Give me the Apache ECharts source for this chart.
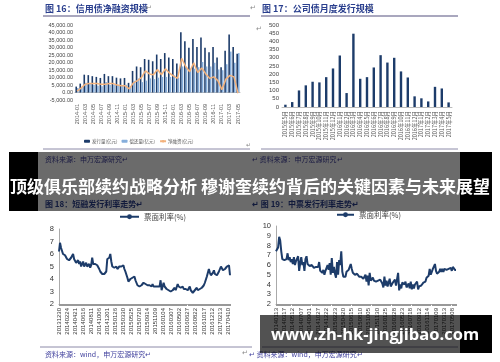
<!DOCTYPE html>
<html>
<head>
<meta charset="utf-8">
<script src="https://cdn.jsdelivr.net/npm/echarts@6/dist/echarts.min.js"></script>
<style>
html,body{margin:0;padding:0;background:#fff;}
#c{width:500px;height:362px;}
</style>
</head>
<body>
<div id="c"></div>
<script>
// 图16 信用债净融资规模（月度，亿元）
const creditMonths = ['2014-01','2014-02','2014-03','2014-04','2014-05','2014-06','2014-07','2014-08','2014-09','2014-10','2014-11','2014-12',
  '2015-01','2015-02','2015-03','2015-04','2015-05','2015-06','2015-07','2015-08','2015-09','2015-10','2015-11','2015-12',
  '2016-01','2016-02','2016-03','2016-04','2016-05','2016-06','2016-07','2016-08','2016-09','2016-10','2016-11','2016-12',
  '2017-01','2017-02','2017-03','2017-04','2017-05'];
const issuance = [4000,6000,12000,11700,11000,10500,9800,12500,11000,11000,10000,9500,9800,6500,14500,17500,17000,22500,22000,21000,25500,22500,26500,23500,22500,19500,40500,34500,30000,36000,30500,37000,30000,27000,30500,23500,17000,28000,39000,30500,26000];
const repayment = [3000,3000,6500,5700,5000,4500,4300,7000,5000,5000,5000,5000,5300,4000,8000,9500,7000,8000,9500,9000,10000,10500,10500,10500,11500,10000,17500,17000,16000,16000,17000,20500,17500,17500,20000,15500,15000,19000,27500,20000,26500];
const netFinancing = [1000,3000,5500,6000,6000,6000,5500,5500,6000,6000,5000,4500,4500,2500,6500,8000,10000,14500,12500,12000,15500,12000,16000,13000,11000,9500,23000,17500,14000,20000,13500,16500,12500,9500,10500,8000,2000,9000,11500,10500,-500];

// 图17 公司债月度发行规模
const corpMonths = ['2015年5月','2015年6月','2015年7月','2015年8月','2015年9月','2015年10月','2015年11月','2015年12月',
  '2016年1月','2016年2月','2016年3月','2016年4月','2016年5月','2016年6月','2016年7月','2016年8月','2016年9月','2016年10月','2016年11月','2016年12月',
  '2017年1月','2017年2月','2017年3月','2017年4月','2017年5月'];
const corpIssuance = [14,30,101,132,154,150,182,235,314,85,447,172,182,241,316,271,300,217,180,65,53,34,123,113,28];

// 图18 短融票面利率（周度，%）
const cpTicks = ['20131230','20140224','20140421','20140616','20140811','20141006','20141201','20150126','20150330','20150525','20150720',
  '20150914','20151109','20160104','20160307','20160502','20160627','20160822','20161017','20161212','20170213','20170410'];
const cpRate = [6.2,6.9,6.5,6.6,6.0,6.0,5.9,5.9,5.6,5.5,
  5.5,5.5,5.7,5.8,6.0,5.6,5.5,5.3,5.4,5.5,
  5.2,5.4,5.0,5.1,5.4,5.0,5.1,5.3,5.0,5.1,
  5.2,4.9,5.1,5.7,5.2,5.1,5.2,5.1,5.1,5.0,
  4.8,4.6,4.5,4.4,4.5,4.4,4.5,4.6,5.6,5.5,
  5.7,6.0,5.4,5.0,5.1,4.9,4.8,5.0,4.8,4.9,
  5.0,5.1,5.0,4.9,5.1,4.8,4.6,4.5,4.1,3.8,
  3.9,4.0,3.9,4.1,4.0,4.2,3.9,3.7,3.5,3.5,
  3.4,3.4,3.5,3.6,3.7,3.7,3.6,3.6,3.5,3.5,
  3.5,3.4,3.4,3.6,3.4,3.3,3.4,3.4,3.4,3.5,
  3.4,3.9,3.1,3.4,3.7,3.4,3.3,3.2,3.1,3.1,
  3.0,3.0,3.1,3.1,3.2,3.3,3.1,3.0,3.6,3.4,
  3.3,3.3,3.2,3.4,3.2,3.1,3.2,3.3,3.1,3.2,
  3.4,3.1,3.0,2.9,3.0,3.1,3.1,3.3,3.1,3.0,
  3.2,3.3,3.3,3.4,3.5,3.7,3.8,4.2,4.5,4.8,
  4.5,4.3,4.3,4.5,4.7,4.4,4.3,4.3,4.4,4.6,
  4.8,5.0,4.9,4.7,4.7,4.8,4.7,5.0,4.9,5.1,4.3];

// 图19 中票票面利率（周度，%）
const mtnTicks = ['20140113','20140317','20140512','20140707','20140901','20141027','20141222','20150223','20150420','20150615','20150810',
  '20151005','20151130','20160125','20160328','20160523','20160718','20160912','20161114','20170109','20170313','20170508'];
const mtnRate = [7.4,7.6,7.8,8.9,8.5,7.4,6.6,6.6,6.5,6.7,
  6.6,7.2,6.5,6.8,6.3,6.6,6.1,6.8,6.0,6.4,
  6.2,6.9,5.4,6.2,6.8,6.0,6.3,5.4,6.6,6.9,
  6.1,6.0,5.9,5.8,6.0,5.8,5.7,5.9,5.8,5.8,
  5.8,6.3,5.4,5.5,5.2,5.5,5.0,5.4,5.6,6.0,
  5.5,6.2,5.0,6.7,5.2,5.8,5.1,4.7,6.3,5.0,
  6.5,6.0,7.4,5.3,4.8,4.9,4.8,5.3,5.3,5.5,
  5.3,6.1,5.6,5.2,5.3,5.0,4.9,5.1,4.9,4.8,
  5.0,4.8,4.9,4.6,4.8,5.0,4.3,4.9,3.9,5.2,
  4.4,4.6,4.7,4.4,4.6,4.3,4.5,4.4,4.2,4.5,
  4.3,4.1,3.7,4.8,3.9,4.4,3.8,4.0,4.6,3.8,
  4.0,4.2,4.0,4.5,3.9,4.0,5.2,3.4,4.0,3.6,
  4.2,4.2,4.0,4.3,3.7,3.5,4.1,3.6,4.3,3.5,
  4.0,3.6,4.0,3.8,4.3,3.5,3.8,3.7,3.9,3.8,
  4.2,4.0,4.3,4.7,4.5,4.9,5.6,5.0,5.3,5.6,
  5.8,6.1,5.4,5.1,5.0,5.3,5.6,5.3,5.6,5.3,
  5.6,5.4,5.5,5.3,5.6,5.5,5.7,5.4,5.8,5.6,5.5,5.5];

const NAVY = '#1d3c6a';
const LIGHT = '#86aedb';
const ORANGE = '#f3b27c';
const LATIN = 'Liberation Sans, Arial, sans-serif';
const CJK = 'Noto Sans CJK SC, sans-serif';
const TITLE_BLUE = '#2a3f8e';
const SRC_BLUE = '#3e3e9c';

const idx = n => Array.from({length: n}, (_, i) => String(i));
const weekLabel = ticks => v => { const i = +v; return i % 8 === 0 ? (ticks[i / 8] || '') : ''; };

const chart = echarts.init(document.getElementById('c'), null, {renderer: 'canvas'});

const smallLabel = {fontFamily: LATIN, color: '#333'};

chart.setOption({
  animation: false,
  backgroundColor: '#fff',
  grid: [
    {left: 75, top: 25.5, width: 165, height: 74.5},
    {left: 282, top: 25, width: 170, height: 82},
    {left: 59, top: 229, width: 171, height: 75},
    {left: 276, top: 226, width: 180, height: 78}
  ],
  xAxis: [
    {gridIndex: 0, type: 'category', position: 'bottom', data: creditMonths,
      axisLine: {onZero: true, lineStyle: {color: '#bbb', width: 1}}, axisTick: {show: false},
      axisLabel: Object.assign({}, smallLabel, {fontSize: 5.5, rotate: 90, interval: 1, margin: 4, color: '#555'})},
    {gridIndex: 1, type: 'category', position: 'bottom', data: corpMonths,
      axisLine: {onZero: false, lineStyle: {color: '#bbb'}}, axisTick: {show: false},
      axisLabel: {fontFamily: CJK, fontSize: 5.5, rotate: 90, interval: 0, margin: 4, color: '#555'}},
    {gridIndex: 2, type: 'category', position: 'bottom', data: idx(cpRate.length), boundaryGap: false,
      axisLine: {onZero: false, lineStyle: {color: '#aaa'}}, axisTick: {show: true, interval: 0, length: 2, lineStyle: {color: '#999'}},
      axisLabel: Object.assign({}, smallLabel, {fontSize: 6, rotate: 90, interval: 0, margin: 4, formatter: weekLabel(cpTicks)})},
    {gridIndex: 3, type: 'category', position: 'bottom', data: idx(mtnRate.length), boundaryGap: false,
      axisLine: {onZero: false, lineStyle: {color: '#aaa'}}, axisTick: {show: true, interval: 0, length: 2, lineStyle: {color: '#999'}},
      axisLabel: Object.assign({}, smallLabel, {fontSize: 6, rotate: 90, interval: 0, margin: 4, formatter: weekLabel(mtnTicks)})}
  ],
  yAxis: [
    {gridIndex: 0, type: 'value', position: 'left', min: -5000, max: 45000, interval: 5000,
      axisLine: {show: false}, axisTick: {show: false}, splitLine: {show: false},
      axisLabel: Object.assign({}, smallLabel, {fontSize: 5.5, margin: 2, color: '#444',
        formatter: v => v.toLocaleString('en-US', {minimumFractionDigits: 2, maximumFractionDigits: 2})})},
    {gridIndex: 1, type: 'value', position: 'left', min: 0, max: 500, interval: 50,
      axisLine: {show: false}, axisTick: {show: false}, splitLine: {show: false},
      axisLabel: Object.assign({}, smallLabel, {fontSize: 6, margin: 3, color: '#444'})},
    {gridIndex: 2, type: 'value', position: 'left', min: 2, max: 8, interval: 1,
      axisLine: {show: true, lineStyle: {color: '#aaa'}}, axisTick: {show: false}, splitLine: {show: false},
      axisLabel: Object.assign({}, smallLabel, {fontSize: 7.5, margin: 5})},
    {gridIndex: 3, type: 'value', position: 'left', min: 2, max: 10, interval: 1,
      axisLine: {show: true, lineStyle: {color: '#aaa'}}, axisTick: {show: false}, splitLine: {show: false},
      axisLabel: Object.assign({}, smallLabel, {fontSize: 7.5, margin: 5})}
  ],
  legend: [
    {data: ['发行量(亿元)', '偿还量(亿元)', '净融资(亿元)'], left: 79, top: 134, itemWidth: 6, itemHeight: 3, itemGap: 4,
      textStyle: {fontFamily: CJK, fontSize: 4.5, color: '#555', padding: [0, 0, 0, -3]}},
    {data: ['票面利率(%)'], left: 114, top: 208, itemWidth: 19, itemHeight: 6, itemGap: 2,
      textStyle: {fontFamily: CJK, fontSize: 7.5, color: '#444'}},
    {data: ['票面利率(%)'], left: 331, top: 206, itemWidth: 17, itemHeight: 6, itemGap: 2,
      textStyle: {fontFamily: CJK, fontSize: 7.5, color: '#444'}}
  ],
  series: [
    {name: '发行量(亿元)', type: 'bar', xAxisIndex: 0, yAxisIndex: 0, data: issuance, barWidth: 1.6, barGap: '0%', itemStyle: {color: NAVY}},
    {name: '偿还量(亿元)', type: 'bar', xAxisIndex: 0, yAxisIndex: 0, data: repayment, barWidth: 1.6, barGap: '0%', itemStyle: {color: LIGHT}},
    {name: '净融资(亿元)', type: 'line', xAxisIndex: 0, yAxisIndex: 0, data: netFinancing, symbol: 'none',
      lineStyle: {color: ORANGE, width: 1.5}, itemStyle: {color: ORANGE}},
    {name: '公司债发行', type: 'bar', xAxisIndex: 1, yAxisIndex: 1, data: corpIssuance, barWidth: 2.4, itemStyle: {color: NAVY}},
    {name: '票面利率(%)', type: 'line', xAxisIndex: 2, yAxisIndex: 2, data: cpRate, symbol: 'none',
      lineStyle: {color: NAVY, width: 2}, itemStyle: {color: NAVY}},
    {name: '票面利率(%)', type: 'line', xAxisIndex: 3, yAxisIndex: 3, data: mtnRate, symbol: 'none',
      lineStyle: {color: NAVY, width: 2}, itemStyle: {color: NAVY}}
  ],
  graphic: {elements: [
    // figure captions and rules
    {type: 'text', z: 5, x: 45, y: 4, style: {text: '图 16：信用债净融资规模', font: 'bold 9px ' + CJK, fill: TITLE_BLUE}},
    {type: 'text', z: 5, x: 146, y: 5, style: {text: '↵', font: '7px ' + LATIN, fill: '#888'}},
    {type: 'line', z: 5, shape: {x1: 43, y1: 16, x2: 250, y2: 16}, style: {stroke: '#8c8aa8', lineWidth: 1.5}},
    {type: 'text', z: 5, x: 250, y: 5, style: {text: '↵', font: '7px ' + LATIN, fill: '#888'}},
    {type: 'text', z: 5, x: 262, y: 4, style: {text: '图 17：公司债月度发行规模', font: 'bold 9px ' + CJK, fill: TITLE_BLUE}},
    {type: 'text', z: 5, x: 367, y: 5, style: {text: '↵', font: '7px ' + LATIN, fill: '#888'}},
    {type: 'line', z: 5, shape: {x1: 261, y1: 16, x2: 458, y2: 16}, style: {stroke: '#8c8aa8', lineWidth: 1.5}},
    {type: 'text', z: 5, x: 256, y: 26, style: {text: '↵', font: '7px ' + LATIN, fill: '#888'}},

    {type: 'line', z: 5, shape: {x1: 43, y1: 149, x2: 250, y2: 149}, style: {stroke: '#8c8aa8', lineWidth: 1}},
    {type: 'line', z: 5, shape: {x1: 261, y1: 149, x2: 458, y2: 149}, style: {stroke: '#8c8aa8', lineWidth: 1}},
    {type: 'text', z: 5, x: 246, y: 142, style: {text: '↵', font: '6px ' + LATIN, fill: '#888'}},
    {type: 'text', z: 5, x: 45, y: 156, style: {text: '资料来源：申万宏源研究↵', font: '7px ' + CJK, fill: SRC_BLUE}},
    {type: 'text', z: 5, x: 252, y: 156, style: {text: '↵ 资料来源：申万宏源研究↵', font: '7px ' + CJK, fill: SRC_BLUE}},
    {type: 'text', z: 5, x: 45, y: 200, style: {text: '图 18：短融发行利率走势↵', font: 'bold 8px ' + CJK, fill: TITLE_BLUE}},
    {type: 'text', z: 5, x: 252, y: 200, style: {text: '↵ 图 19：中票发行利率走势↵', font: 'bold 8px ' + CJK, fill: TITLE_BLUE}},

    {type: 'line', z: 5, shape: {x1: 40, y1: 347, x2: 252, y2: 347}, style: {stroke: '#8c8aa8', lineWidth: 1}},
    {type: 'line', z: 5, shape: {x1: 262, y1: 347, x2: 458, y2: 347}, style: {stroke: '#8c8aa8', lineWidth: 1}},
    {type: 'text', z: 5, x: 242, y: 350, style: {text: '↵', font: '7px ' + LATIN, fill: '#888'}},
    {type: 'text', z: 5, x: 45, y: 351, style: {text: '资料来源：wind，申万宏源研究↵', font: '7px ' + CJK, fill: SRC_BLUE}},
    {type: 'text', z: 5, x: 249, y: 351, style: {text: '↵ 资料来源：wind，申万宏源研究↵', font: '7px ' + CJK, fill: SRC_BLUE}},

    // headline band
    {type: 'rect', z: 100, shape: {x: 9, y: 152, width: 29, height: 59}, style: {fill: '#000'}},
    {type: 'rect', z: 100, shape: {x: 38, y: 152, width: 422, height: 59}, style: {fill: 'rgba(0,0,0,0.58)'}},
    {type: 'rect', z: 100, shape: {x: 460, y: 152, width: 32, height: 59}, style: {fill: '#000'}},
    {type: 'text', z: 101, x: 250, y: 187, style: {text: '顶级俱乐部续约战略分析 穆谢奎续约背后的关键因素与未来展望',
      font: 'bold 17px ' + CJK, fill: '#fff', align: 'center', verticalAlign: 'middle'}},

    // site band
    {type: 'rect', z: 100, shape: {x: 260, y: 315, width: 200, height: 38}, style: {fill: 'rgba(0,0,0,0.68)'}},
    {type: 'rect', z: 100, shape: {x: 460, y: 315, width: 32, height: 38}, style: {fill: '#000'}},
    {type: 'text', z: 101, x: 375, y: 335, style: {text: 'www.zh-hk-jingjibao.com',
      font: 'bold 16.5px Open Sans, ' + LATIN, fill: '#fff', align: 'center', verticalAlign: 'middle'}}
  ]}
});
</script>
</body>
</html>
